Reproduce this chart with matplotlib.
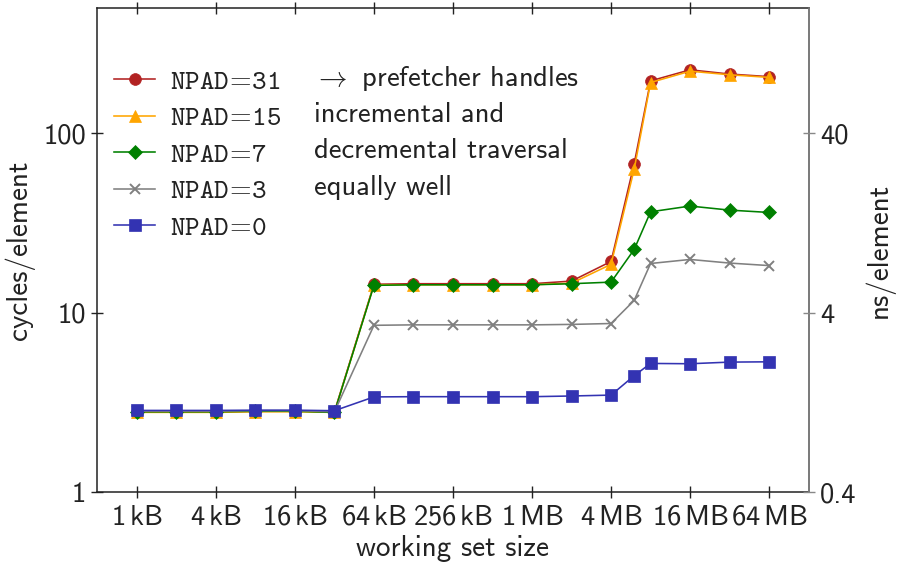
import matplotlib
matplotlib.use("Agg")
import matplotlib.pyplot as plt
from matplotlib.ticker import FixedLocator, FixedFormatter, NullLocator

plt.rcParams["mathtext.fontset"] = "cm"
plt.rcParams["font.family"] = ["cmss10", "DejaVu Sans"]
plt.rcParams["axes.unicode_minus"] = False

# working set sizes in bytes (1 kB ... 64 MB, plus 6 MB)
sizes = [2**10, 2**11, 2**12, 2**13, 2**14, 2**15, 2**16, 2**17, 2**18,
         2**19, 2**20, 2**21, 2**22, 6 * 2**20, 2**23, 2**24, 2**25, 2**26]

npad31 = [2.80, 2.80, 2.80, 2.82, 2.83, 2.80, 14.4, 14.5, 14.5, 14.5, 14.5,
          15.0, 19.3, 67.7, 196, 226, 214, 207]
npad15 = [2.78, 2.78, 2.78, 2.80, 2.80, 2.78, 14.3, 14.3, 14.3, 14.3, 14.3,
          14.6, 18.6, 63.0, 192, 222, 212, 205]
npad7 = [2.80, 2.80, 2.80, 2.82, 2.82, 2.78, 14.2, 14.3, 14.3, 14.3, 14.3,
         14.5, 14.8, 22.5, 36.5, 39.3, 37.3, 36.2]
npad3 = [2.82, 2.82, 2.82, 2.84, 2.84, 2.80, 8.5, 8.55, 8.55, 8.55, 8.55,
         8.6, 8.7, 11.7, 18.8, 19.8, 18.9, 18.3]
npad0 = [2.85, 2.85, 2.85, 2.86, 2.86, 2.84, 3.39, 3.40, 3.40, 3.40, 3.40,
         3.43, 3.47, 4.45, 5.21, 5.19, 5.30, 5.32]

series = [
    (r"NPAD$\!=\!$31", npad31, "#B22222", "o", 8.5),
    (r"NPAD$\!=\!$15", npad15, "#FFA500", "^", 8.5),
    (r"NPAD$\!=\!$7", npad7, "#008000", "D", 7),
    (r"NPAD$\!=\!$3", npad3, "#808080", "x", 7),
    (r"NPAD$\!=\!$0", npad0, "#3333B2", "s", 8.5),
]

x_ticks = [2**10, 2**12, 2**14, 2**16, 2**18, 2**20, 2**22, 2**24, 2**26]
x_labels = [r"1$\,$kB", r"4$\,$kB", r"16$\,$kB", r"64$\,$kB", r"256$\,$kB",
            r"1$\,$MB", r"4$\,$MB", r"16$\,$MB", r"64$\,$MB"]
y_ticks = [1, 10, 100]
y2_ticks = [0.4, 4, 40]
clock_ghz = 2.5

note_lines = [r"$\rightarrow$ prefetcher handles", "incremental and",
              "decremental traversal", "equally well"]

fig = plt.figure(figsize=(8.97, 5.68), dpi=100)
ax = fig.add_axes([0.1085, 0.1338, 0.793, 0.8522])

for label, vals, color, marker, ms in series:
    ax.plot(sizes, vals, color=color, marker=marker, markersize=ms,
            linewidth=1.15, markeredgewidth=1.4 if marker == "x" else 0.5,
            markeredgecolor=color, label=label)

ax.set_xscale("log", base=2)
ax.set_yscale("log")
ax.set_xlim(2**9, 2**27)
ax.set_ylim(1, 500)

tick_font = 20.5
ax.xaxis.set_major_locator(FixedLocator(x_ticks))
ax.xaxis.set_major_formatter(FixedFormatter(x_labels))
ax.xaxis.set_minor_locator(NullLocator())
ax.yaxis.set_major_locator(FixedLocator(y_ticks))
ax.yaxis.set_major_formatter(FixedFormatter([str(v) for v in y_ticks]))
ax.yaxis.set_minor_locator(NullLocator())
ax.tick_params(axis="both", which="major", direction="inout", length=8,
               width=1, labelsize=tick_font, colors="#222222")
ax.tick_params(axis="x", top=True, pad=5)
ax.tick_params(axis="y", pad=4)
for sp in ax.spines.values():
    sp.set_linewidth(1.1)
    sp.set_color("#222222")

ax2 = ax.twinx()
ax2.set_yscale("log")
ax2.set_ylim(1 / clock_ghz, 500 / clock_ghz)
ax2.yaxis.set_major_locator(FixedLocator(y2_ticks))
ax2.yaxis.set_major_formatter(FixedFormatter(["0.4", "4", "40"]))
ax2.yaxis.set_minor_locator(NullLocator())
ax2.tick_params(axis="y", direction="inout", length=8, width=1,
                labelsize=tick_font, color="#888888", labelcolor="#222222", pad=4)
ax2.spines["right"].set_color("#888888")
ax2.spines["right"].set_linewidth(1.1)
for side in ("left", "top", "bottom"):
    ax2.spines[side].set_visible(False)

ax.set_xlabel("working set size", fontsize=21, color="#222222", labelpad=4)
ax.set_ylabel("cycles/element", fontsize=21, color="#222222", labelpad=6)
ax2.set_ylabel("ns/element", fontsize=21, color="#222222", labelpad=6)

leg = ax.legend(loc="upper left", bbox_to_anchor=(-0.011, 0.925), frameon=False,
                prop={"family": "cmtt10", "size": 20}, handlelength=1.45,
                handletextpad=0.55, labelspacing=0.40, borderaxespad=0.5)
for t in leg.get_texts():
    t.set_color("#222222")

row_y = [0.855, 0.779, 0.705, 0.630]
for line, yy in zip(note_lines, row_y):
    ax.text(0.3046, yy, line, transform=ax.transAxes, fontsize=20.5,
            color="#222222", va="center", ha="left")

fig.savefig("out.png", dpi=100)
